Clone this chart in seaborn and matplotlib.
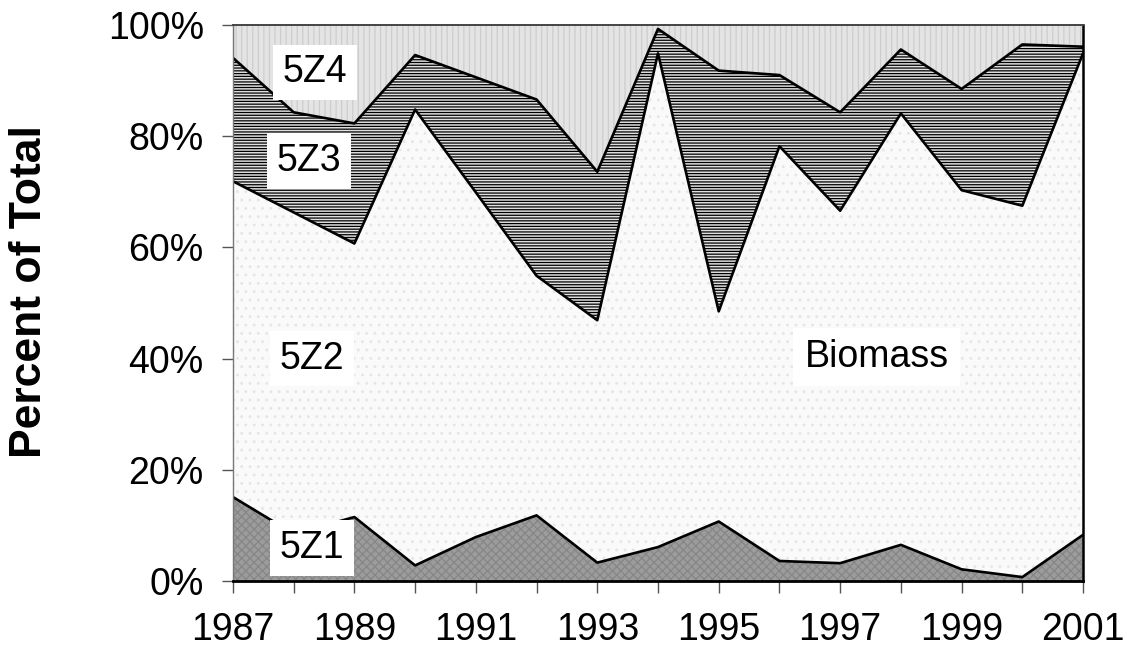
import numpy as np
import matplotlib
matplotlib.use("Agg")
import matplotlib.pyplot as plt
import seaborn as sns

# share of total biomass by area, percent
years = [1987, 1988, 1989, 1990, 1991, 1992, 1993, 1994,
         1995, 1996, 1997, 1998, 1999, 2000, 2001]
z1 = [15.1, 8.5, 11.5, 2.8, 7.9, 11.8, 3.3, 6.1, 10.7, 3.6, 3.2, 6.5, 2.1, 0.7, 8.3]
z2 = [56.8, 57.8, 49.2, 82.0, 62.0, 43.1, 43.6, 88.8, 37.8, 74.6, 63.4, 77.6, 68.2, 66.8, 86.6]
z3 = [22.2, 18.0, 21.6, 9.8, 20.7, 31.7, 26.7, 4.4, 43.3, 12.8, 17.7, 11.5, 18.2, 29.0, 1.2]
z4 = [5.9, 15.7, 17.7, 5.4, 9.4, 13.4, 26.4, 0.7, 8.2, 9.0, 15.7, 4.4, 11.5, 3.5, 3.9]
layer_names = ["5Z1", "5Z2", "5Z3", "5Z4"]

sns.set_theme(style="white")
plt.rcParams['font.family'] = ['Liberation Sans', 'DejaVu Sans']
plt.rcParams['hatch.linewidth'] = 0.9
for k in ['text.color', 'axes.labelcolor', 'xtick.color', 'ytick.color']:
    plt.rcParams[k] = 'black'

fig = plt.figure(figsize=(11.27, 6.55), dpi=100)
ax = fig.add_axes([0.2067, 0.1130, 0.7543, 0.8488])

x = np.array(years)
layers = np.array([z1, z2, z3, z4])
tops = np.cumsum(layers, axis=0)
bottoms = np.vstack([np.zeros(len(years)), tops[:-1]])

# fill, hatch colour, hatch pattern
styles = [
    ("#9c9c9c", "#868686", "xxxx"),
    ("#fafafa", "#e6e6e6", ".."),
    ("#e0e0e0", "#000000", "------"),
    ("#e4e4e4", "#cdcdcd", "|||"),
]
for (fc, hc, hp), lo, hi in zip(styles, bottoms, tops):
    ax.fill_between(x, lo, hi, facecolor=fc, edgecolor=hc, hatch=hp, linewidth=0)

# boundary lines between the layers
for hi in tops[:-1]:
    sns.lineplot(x=x, y=hi, color="black", linewidth=1.9, ax=ax)

ax.set_xlim(1987, 2001)
ax.set_ylim(0, 100)
ax.set_xticks(years)
ax.set_xticklabels([str(y) if (y - 1987) % 2 == 0 else "" for y in years])
ax.set_yticks(range(0, 101, 20))
ax.set_yticklabels([f"{v}%" for v in range(0, 101, 20)])
ax.tick_params(axis="x", direction="out", length=8.5, width=1, color="#555555",
               labelsize=27, pad=14, bottom=True)
ax.tick_params(axis="y", direction="out", length=8, width=1, color="#555555",
               labelsize=27, pad=13, left=True)

ax.set_ylabel("Percent of Total", fontsize=32, fontweight="bold")
ax.yaxis.set_label_coords(-0.215, 0.52)

for side, col, lw in [("left", "#777777", 1.0), ("bottom", "black", 2.0),
                      ("right", "black", 1.8), ("top", "#444444", 1.4)]:
    ax.spines[side].set_visible(True)
    ax.spines[side].set_color(col)
    ax.spines[side].set_linewidth(lw)

box = dict(facecolor="white", edgecolor="none", pad=7)
label_pos = [(1988.3, 5.9), (1988.3, 40.0), (1988.25, 75.5), (1988.35, 91.5)]
for name, (lx, ly) in zip(layer_names, label_pos):
    ax.text(lx, ly, name, fontsize=27, ha="center", va="center", bbox=box)
ax.text(1997.6, 40.3, "Biomass", fontsize=27, ha="center", va="center",
        bbox=dict(facecolor="white", edgecolor="none", pad=8))

fig.savefig("out.png", dpi=100)
